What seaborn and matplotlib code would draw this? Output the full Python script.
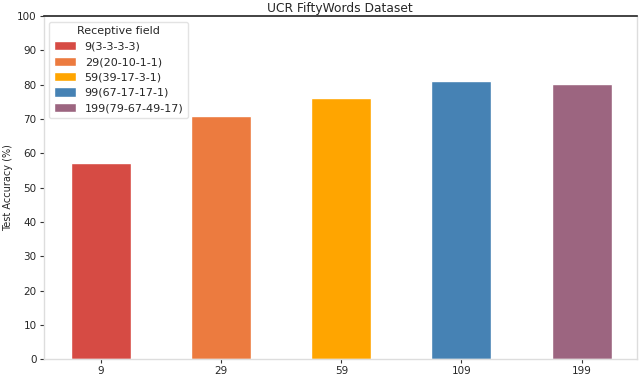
import matplotlib
matplotlib.use("Agg")
import matplotlib.pyplot as plt
import seaborn as sns
import pandas as pd

categories = ["9", "29", "59", "109", "199"]
legend_labels = ["9(3-3-3-3)", "29(20-10-1-1)", "59(39-17-3-1)", "99(67-17-17-1)", "199(79-67-49-17)"]
accuracy = [57.2, 70.8, 76.0, 81.2, 80.2]
colors = ["#d64b44", "#ec7b3f", "#ffa500", "#4682b4", "#9c6580"]

df = pd.DataFrame({"rf": categories, "label": legend_labels, "acc": accuracy})

sns.set_theme(style="white")
plt.rcParams["font.family"] = ["DejaVu Sans"]

fig, ax = plt.subplots(figsize=(6.4, 3.75), dpi=100)
sns.barplot(data=df, x="rf", y="acc", hue="label", palette=colors, saturation=1,
            dodge=False, width=0.5, ax=ax, order=categories, hue_order=legend_labels)

ax.set_ylim(0, 100)
ax.set_xlim(-0.48, 4.46)
ax.set_yticks(range(0, 101, 10))
ax.set_xlabel("")
ax.set_ylabel("Test Accuracy (%)", fontsize=7, labelpad=3)
ax.set_title("UCR FiftyWords Dataset", fontsize=8.8, pad=3)
ax.tick_params(axis="both", labelsize=7.5, length=3, width=0.8, color="#333333", pad=2, left=True, bottom=True)

for s in ["left", "bottom", "right"]:
    ax.spines[s].set_color("#dddddd")
    ax.spines[s].set_linewidth(1.0)
ax.spines["top"].set_color("#222222")
ax.spines["top"].set_linewidth(1.2)

leg = ax.legend(title="Receptive field", loc="upper left", fontsize=8, title_fontsize=8,
                frameon=True, handlelength=2.0, handleheight=0.9, borderaxespad=0.5,
                labelspacing=0.45)
leg.get_frame().set_edgecolor("#dddddd")

fig.subplots_adjust(left=0.068, right=0.995, top=0.957, bottom=0.042)
fig.savefig("out.png", dpi=100)
